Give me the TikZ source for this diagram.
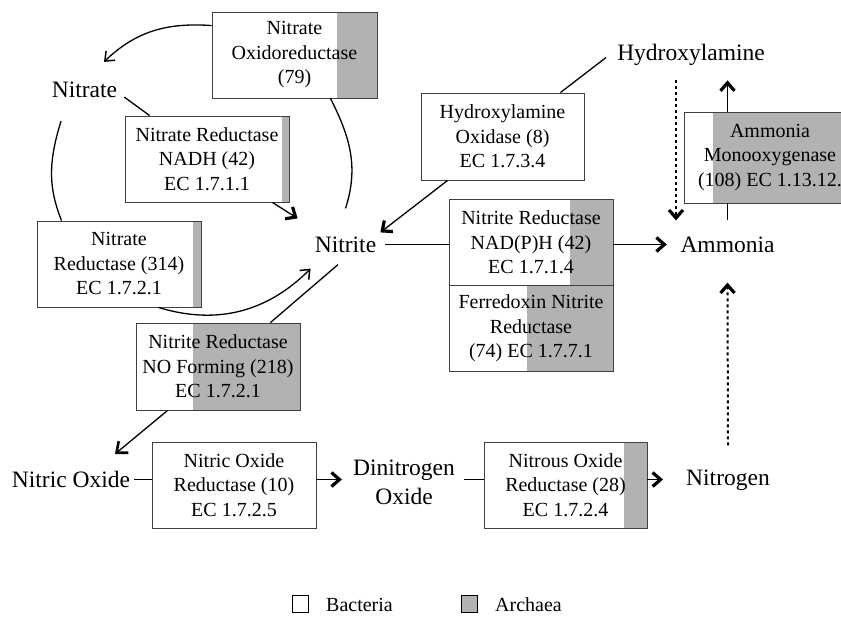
\documentclass[tikz,border=0pt]{standalone}
\usepackage{fontspec}
\setmainfont{Liberation Serif}
\usepackage{tikz}
\usetikzlibrary{arrows.meta,calc}

\definecolor{archaeagray}{RGB}{178,178,178}
\newcommand{\enzfont}{\fontsize{20}{24.5}\selectfont}
\newcommand{\cpdfont}{\fontsize{23.5}{29}\selectfont}
\newcommand{\legfont}{\fontsize{20}{24}\selectfont}

\begin{document}
\begin{tikzpicture}[x=1pt, y=-1pt,
  enzyme/.style={draw=black!75, line width=0.9pt, align=center, inner sep=0pt,
    minimum width=164pt, minimum height=86pt, font=\enzfont},
  archaea/.style={path picture={\fill[archaeagray]
    ([xshift=-#1pt]path picture bounding box.north east) rectangle
    (path picture bounding box.south east);}},
  compound/.style={font=\cpdfont, align=center, inner sep=4pt},
  legbox/.style={draw, line width=0.8pt, minimum width=16pt, minimum height=17pt, inner sep=0pt},
  conn/.style={line width=1.3pt},
  thintip/.style={-{Straight Barb[length=8pt,width=13pt,line width=1.5pt]}},
  midtip/.style={-{Straight Barb[length=9pt,width=15pt,line width=2.6pt]}},
  boldtip/.style={-{Straight Barb[length=8pt,width=14pt,line width=3.2pt]}},
  dotline/.style={line width=2pt, dash pattern=on 3pt off 3pt}]
\useasboundingbox (0,0) rectangle (841,618);
\clip (0,0) rectangle (841,618);

\node[compound] (nitrate) at (84.5,90) {Nitrate};
\node[compound] (nitrite) at (345.5,244.5) {Nitrite};
\node[compound] (hydroxylamine) at (691,54.5) {Hydroxylamine};
\node[compound] (ammonia) at (727.5,244.5) {Ammonia};
\node[compound] (nitricoxide) at (71,479.5) {Nitric Oxide};
\node[compound] (dinitrogen) at (404,482.5) {Dinitrogen\\Oxide};
\node[compound] (nitrogen) at (728,480) {Nitrogen};

\node[enzyme, archaea=40, minimum width=165pt] (nox) at (294.5,55) {Nitrate\\Oxidoreductase\\(79)};
\node[enzyme, archaea=7] (nadh) at (207,159) {Nitrate Reductase\\NADH (42)\\EC 1.7.1.1};
\node[enzyme, archaea=8] (nr) at (119,264) {Nitrate\\Reductase (314)\\EC 1.7.2.1};
\node[enzyme, archaea=107, minimum height=87pt] (noform) at (218,366.5) {Nitrite Reductase\\NO Forming (218)\\EC 1.7.2.1};
\node[enzyme, minimum width=163pt, minimum height=87pt] (hao) at (502.5,136.5) {Hydroxylamine\\Oxidase (8)\\EC 1.7.3.4};
\node[enzyme, archaea=143, minimum width=172pt, minimum height=91pt] (amo) at (770,157.5) {Ammonia\\Monooxygenase\\(108) EC 1.13.12.};
\node[enzyme, archaea=43] (nirb) at (531,242.5) {Nitrite Reductase\\NAD(P)H (42)\\EC 1.7.1.4};
\node[enzyme, archaea=86] (fnir) at (531,328.5) {Ferredoxin Nitrite\\Reductase\\(74) EC 1.7.7.1};
\node[enzyme] (nor) at (234,485) {Nitric Oxide\\Reductase (10)\\EC 1.7.2.5};
\node[enzyme, archaea=23, minimum width=163pt] (nos) at (565.5,485) {Nitrous Oxide\\Reductase (28)\\EC 1.7.2.4};

\draw[conn, thintip] ([yshift=-14pt]nox.north west) to[out=176, in=44] ([shift={(19.5pt,16pt)}]nitrate.north);
\draw[conn] ([xshift=-47pt]nox.south east) to[out=-63, in=72] ([yshift=24pt]nitrite.north);
\draw[conn] ([shift={(-23.5pt,-19pt)}]nitrate.south) to[out=-107, in=112] ([xshift=25pt]nr.north west);
\draw[conn] ([shift={(3pt,5pt)}]nitrate.south east) -- ([xshift=25pt]nadh.north west);
\draw[conn, boldtip] ([xshift=-17pt]nadh.south east) -- ([shift={(-13pt,14pt)}]nitrite.north west);
\draw[conn, thintip] ([xshift=-43pt]nr.south east) to[out=-17, in=225] ([yshift=-12pt]nitrite.south west);

\draw[conn] ([shift={(-7.5pt,-8pt)}]nitrite.south) -- ([xshift=-30pt]noform.north east);
\draw[conn, midtip] ([xshift=32pt]noform.south west) -- ([shift={(44pt,13pt)}]nitricoxide.north);

\draw[conn] ([shift={(-7pt,-3pt)}]hydroxylamine.west) -- ([xshift=-24pt]hao.north east);
\draw[conn, boldtip] ([xshift=27pt]hao.south west) -- (nitrite.north east);
\draw[conn] ([xshift=5pt]nitrite.east) -- (nitrite.east -| nirb.west);
\draw[conn, boldtip] (nitrite.east -| nirb.east) -- ([xshift=-9.5pt]ammonia.west);

\draw[conn] ([yshift=12pt]ammonia.north) -- (ammonia.north |- amo.south);
\coordinate (amoup) at (ammonia.north |- hydroxylamine.south);
\draw[conn, boldtip] (ammonia.north |- amo.north) -- ([yshift=-11pt]amoup);
\draw[dotline, boldtip] ([shift={(-15pt,-11pt)}]hydroxylamine.south) -- ([shift={(-51.5pt,12pt)}]ammonia.north);
\draw[dotline, boldtip] ([yshift=20pt]nitrogen.north) -- ([yshift=-26pt]ammonia.south);

\draw[conn] (nitricoxide.east) -- (nitricoxide.east -| nor.west);
\draw[conn, boldtip] (nitricoxide.east -| nor.east) -- ($(nitricoxide.east -| dinitrogen.west)+(-7,0)$);
\draw[conn] ($(nitricoxide.east -| dinitrogen.east)+(5,0)$) -- (nitricoxide.east -| nos.west);
\draw[conn, boldtip] (nitricoxide.east -| nos.east) -- ($(nitricoxide.east -| nitrogen.west)+(-19,0)$);

\node[legbox] (bacbox) at (300,604) {};
\node[font=\legfont, anchor=west, inner sep=0pt] (bactlabel) at (326,605) {Bacteria};
\node[legbox, fill=archaeagray] (arcbox) at (469.5,604) {};
\node[font=\legfont, anchor=west, inner sep=0pt] (arclabel) at (495,605) {Archaea};
\end{tikzpicture}
\end{document}
